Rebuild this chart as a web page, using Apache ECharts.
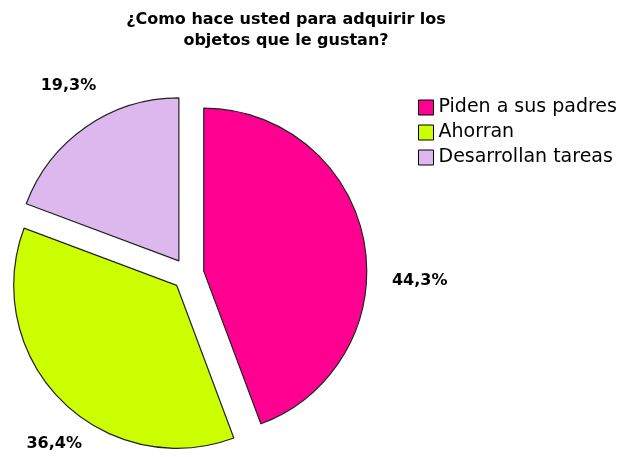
<!DOCTYPE html>
<html>
<head>
<meta charset="utf-8">
<script src="https://cdn.jsdelivr.net/npm/echarts@6/dist/echarts.min.js"></script>
<style>
  html, body { margin: 0; padding: 0; background: #fff; }
  #chart { width: 623px; height: 457px; }
</style>
</head>
<body>
<div id="chart"></div>
<script>
// datos de la encuesta
const categories = ["Piden a sus padres", "Ahorran", "Desarrollan tareas"];
const percents = [44.3, 36.4, 19.3];
const colors = ["#ff0090", "#ccff00", "#dcb8ef"];
// ajuste de la posicion de las etiquetas (como en Excel)
const labelShift = [[11, 41], [34, 35], [22, -31]];

const chart = echarts.init(document.getElementById("chart"));

const option = {
  animation: false,
  title: {
    text: "¿Como hace usted para adquirir los\nobjetos que le gustan?",
    left: 281,
    top: 4,
    textAlign: "center",
    textStyle: {
      fontFamily: "DejaVu Sans",
      fontSize: 16,
      fontWeight: "bold",
      color: "#000",
      lineHeight: 21,
    },
  },
  legend: {
    orient: "vertical",
    left: 413,
    top: 93,
    itemWidth: 15,
    itemHeight: 15,
    itemGap: 6,
    icon: "rect",
    data: categories,
    textStyle: {
      fontFamily: "DejaVu Sans",
      fontSize: 19,
      color: "#000",
    },
    itemStyle: { borderColor: "#000", borderWidth: 1 },
  },
  series: [
    {
      type: "pie",
      center: [188, 274],
      radius: 163,
      startAngle: 90,
      clockwise: true,
      selectedMode: "multiple",
      selectedOffset: 16,
      emphasis: { disabled: true },
      itemStyle: { borderColor: "#222", borderWidth: 1.2 },
      labelLine: { show: false, length: 12, length2: 0 },
      label: {
        position: "outside",
        overflow: "none",
        formatter: (p) => p.value.toFixed(1).replace(".", ",") + "%",
        fontFamily: "DejaVu Sans",
        fontWeight: "bold",
        fontSize: 16,
        color: "#000",
      },
      labelLayout: (p) => ({
        dx: labelShift[p.dataIndex][0],
        dy: labelShift[p.dataIndex][1],
      }),
      data: categories.map((name, i) => ({
        name,
        value: percents[i],
        selected: true,
        itemStyle: { color: colors[i] },
      })),
    },
  ],
};

chart.setOption(option);
</script>
</body>
</html>
